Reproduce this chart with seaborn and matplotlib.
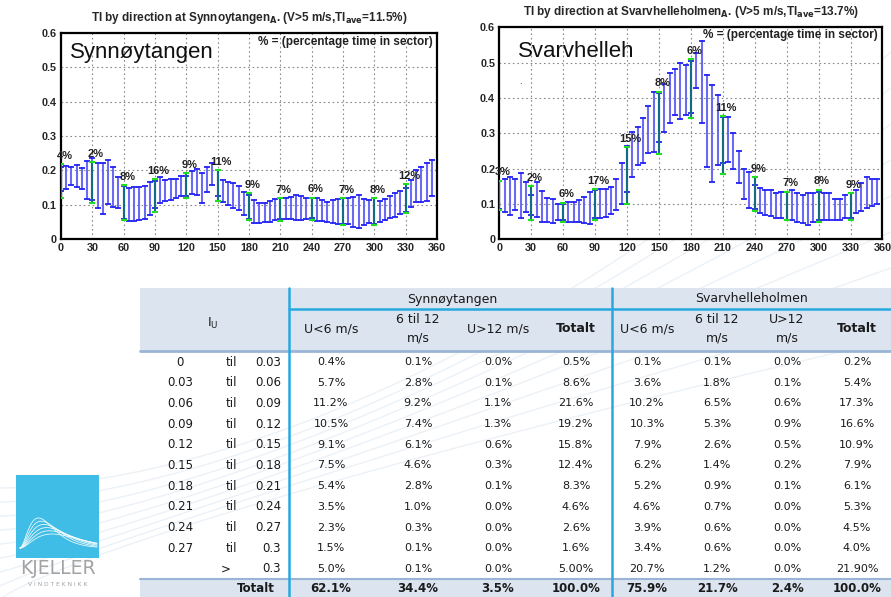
import numpy as np
import pandas as pd
import matplotlib
matplotlib.use("Agg")
import matplotlib.pyplot as plt
from matplotlib.patches import Rectangle
import seaborn as sns

# ---------------- turbulence intensity by 5-degree direction sector ----------------
directions = list(range(0, 360, 5))

syn_low = [0.140, 0.145, 0.158, 0.151, 0.145, 0.116, 0.115, 0.090, 0.073, 0.103, 0.093, 0.090,
           0.060, 0.054, 0.054, 0.056, 0.058, 0.071, 0.090, 0.105, 0.110, 0.115, 0.120, 0.125,
           0.125, 0.132, 0.129, 0.105, 0.138, 0.158, 0.125, 0.109, 0.100, 0.090, 0.085, 0.070,
           0.060, 0.046, 0.048, 0.051, 0.051, 0.056, 0.060, 0.058, 0.058, 0.056, 0.055, 0.058,
           0.062, 0.054, 0.054, 0.051, 0.046, 0.043, 0.045, 0.043, 0.037, 0.034, 0.041, 0.046,
           0.045, 0.051, 0.056, 0.061, 0.066, 0.074, 0.080, 0.095, 0.109, 0.109, 0.111, 0.126]
syn_high = [0.210, 0.213, 0.211, 0.216, 0.206, 0.226, 0.235, 0.223, 0.221, 0.229, 0.211, 0.182,
            0.155, 0.150, 0.151, 0.153, 0.155, 0.165, 0.170, 0.182, 0.172, 0.175, 0.175, 0.185,
            0.185, 0.197, 0.203, 0.192, 0.211, 0.223, 0.200, 0.172, 0.167, 0.163, 0.155, 0.138,
            0.130, 0.114, 0.106, 0.105, 0.112, 0.116, 0.119, 0.119, 0.124, 0.129, 0.126, 0.121,
            0.121, 0.119, 0.114, 0.109, 0.114, 0.116, 0.119, 0.119, 0.124, 0.129, 0.116, 0.114,
            0.119, 0.112, 0.116, 0.126, 0.134, 0.141, 0.150, 0.172, 0.201, 0.211, 0.221, 0.229]

svar_low = [0.085, 0.078, 0.069, 0.083, 0.059, 0.078, 0.070, 0.064, 0.050, 0.050, 0.045, 0.055,
            0.055, 0.050, 0.050, 0.048, 0.045, 0.043, 0.060, 0.059, 0.064, 0.073, 0.083, 0.100,
            0.135, 0.177, 0.210, 0.217, 0.245, 0.248, 0.276, 0.305, 0.328, 0.352, 0.340, 0.352,
            0.357, 0.427, 0.330, 0.205, 0.163, 0.210, 0.215, 0.220, 0.200, 0.160, 0.115, 0.090,
            0.085, 0.075, 0.070, 0.065, 0.060, 0.060, 0.055, 0.055, 0.050, 0.045, 0.040, 0.050,
            0.055, 0.055, 0.055, 0.055, 0.055, 0.060, 0.060, 0.075, 0.080, 0.090, 0.095, 0.100]
svar_high = [0.165, 0.170, 0.177, 0.170, 0.187, 0.163, 0.125, 0.163, 0.138, 0.116, 0.113, 0.100,
             0.100, 0.105, 0.105, 0.110, 0.120, 0.134, 0.140, 0.141, 0.143, 0.148, 0.172, 0.215,
             0.265, 0.303, 0.319, 0.342, 0.377, 0.418, 0.415, 0.440, 0.470, 0.481, 0.498, 0.493,
             0.505, 0.526, 0.560, 0.465, 0.437, 0.408, 0.345, 0.345, 0.300, 0.250, 0.200, 0.190,
             0.155, 0.145, 0.140, 0.140, 0.130, 0.135, 0.135, 0.140, 0.130, 0.125, 0.130, 0.130,
             0.135, 0.130, 0.130, 0.115, 0.115, 0.125, 0.130, 0.140, 0.160, 0.175, 0.170, 0.170]

# 30-degree main sectors and share of time in each sector
main_dirs = list(range(0, 360, 30))
syn_main_low = [0.120, 0.105, 0.056, 0.080, 0.119, 0.112, 0.056, 0.054, 0.056, 0.041, 0.041, 0.076]
syn_main_high = [0.218, 0.224, 0.158, 0.174, 0.192, 0.200, 0.134, 0.119, 0.121, 0.119, 0.119, 0.160]
syn_share = ["4%", "2%", "8%", "16%", "9%", "11%", "9%", "7%", "6%", "7%", "8%", "12%"]
svar_main_low = [0.083, 0.055, 0.050, 0.055, 0.100, 0.241, 0.342, 0.185, 0.080, 0.055, 0.050, 0.055]
svar_main_high = [0.166, 0.151, 0.104, 0.141, 0.260, 0.418, 0.510, 0.349, 0.175, 0.135, 0.140, 0.130]
svar_share = ["3%", "2%", "6%", "17%", "15%", "8%", "6%", "11%", "9%", "7%", "8%", "9%"]

x_ticks = list(range(0, 361, 30))
y_ticks = [0, 0.1, 0.2, 0.3, 0.4, 0.5, 0.6]
y_ticklabels = ["0", "0.1", "0.2", "0.3", "0.4", "0.5", "0.6"]

# ---------------- distribution of turbulence intensity (table) ----------------
iu_from = ["0", "0.03", "0.06", "0.09", "0.12", "0.15", "0.18", "0.21", "0.24", "0.27", ""]
iu_op = ["til"] * 10 + [">"]
iu_to = ["0.03", "0.06", "0.09", "0.12", "0.15", "0.18", "0.21", "0.24", "0.27", "0.3", "0.3"]

syn_u_lt6 = ["0.4%", "5.7%", "11.2%", "10.5%", "9.1%", "7.5%", "5.4%", "3.5%", "2.3%", "1.5%", "5.0%"]
syn_u_6_12 = ["0.1%", "2.8%", "9.2%", "7.4%", "6.1%", "4.6%", "2.8%", "1.0%", "0.3%", "0.1%", "0.1%"]
syn_u_gt12 = ["0.0%", "0.1%", "1.1%", "1.3%", "0.6%", "0.3%", "0.1%", "0.0%", "0.0%", "0.0%", "0.0%"]
syn_total = ["0.5%", "8.6%", "21.6%", "19.2%", "15.8%", "12.4%", "8.3%", "4.6%", "2.6%", "1.6%", "5.00%"]
syn_sum = ["62.1%", "34.4%", "3.5%", "100.0%"]

svar_u_lt6 = ["0.1%", "3.6%", "10.2%", "10.3%", "7.9%", "6.2%", "5.2%", "4.6%", "3.9%", "3.4%", "20.7%"]
svar_u_6_12 = ["0.1%", "1.8%", "6.5%", "5.3%", "2.6%", "1.4%", "0.9%", "0.7%", "0.6%", "0.6%", "1.2%"]
svar_u_gt12 = ["0.0%", "0.1%", "0.6%", "0.9%", "0.5%", "0.2%", "0.1%", "0.0%", "0.0%", "0.0%", "0.0%"]
svar_total = ["0.2%", "5.4%", "17.3%", "16.6%", "10.9%", "7.9%", "6.1%", "5.3%", "4.5%", "4.0%", "21.90%"]
svar_sum = ["75.9%", "21.7%", "2.4%", "100.0%"]

syn_heads = ["U<6 m/s", "6 til 12\nm/s", "U>12 m/s", "Totalt"]
svar_heads = ["U<6 m/s", "6 til 12\nm/s", "U>12\nm/s", "Totalt"]

# ---------------- styling ----------------
sns.set_theme(style="white")
plt.rcParams["font.family"] = ["Liberation Sans", "DejaVu Sans"]

CAP_BLUE = "#2323f5"
STEM_BLUE = "#6a6af2"
GREEN = "#1fe01f"
TEAL = "#126d80"

W, H = 891, 597
fig = plt.figure(figsize=(W / 100, H / 100), dpi=100)
fig.patch.set_facecolor("white")


def px_axes(x0, y0, x1, y1, z):
    return fig.add_axes([x0 / W, 1 - y1 / H, (x1 - x0) / W, (y1 - y0) / H], zorder=z)


bg = px_axes(0, 0, W, H, 0)
bg.set_xlim(0, W)
bg.set_ylim(H, 0)
bg.axis("off")

# faint decorative sweeps behind the table
sweep_x = np.linspace(0, W, 300)
for k in range(9):
    y0 = 600 - 14 * k
    bend = 260 + 22 * k
    sweep_y = y0 - bend * (sweep_x / W) ** (0.8 + 0.12 * k)
    bg.plot(sweep_x, sweep_y, color="#e3ecf4", lw=1.0, alpha=0.7, zorder=0)

ax1 = px_axes(61, 32.7, 437, 239.3, 2)
ax2 = px_axes(499.3, 27.3, 882.5, 239.3, 2)


def ti_panel(ax, low, high, mlow, mhigh, shares, title):
    df = pd.DataFrame({"direction": directions * 2, "TI": low + high})
    sns.lineplot(data=df, x="direction", y="TI", estimator="mean", errorbar=("pi", 100),
                 err_style="bars", color=CAP_BLUE, linewidth=0,
                 err_kws=dict(capsize=2.3, elinewidth=1.5, capthick=1.3), ax=ax)
    ax.containers[-1].lines[2][0].set_color(STEM_BLUE)

    mid = [(a + b) / 2 for a, b in zip(mlow, mhigh)]
    yerr = [[m - a for m, a in zip(mid, mlow)], [b - m for b, m in zip(mhigh, mid)]]
    eb = ax.errorbar(main_dirs, mid, yerr=yerr, fmt="none", ecolor=GREEN,
                     elinewidth=1.5, capsize=2.5, capthick=1.5, zorder=3)
    eb.lines[2][0].set_color(TEAL)

    for d, h, s in zip(main_dirs, mhigh, shares):
        ax.annotate(s, (d, h), xytext=(2.5, 6), textcoords="offset points",
                    ha="center", va="center", fontsize=8, fontweight="bold",
                    color="#222222", zorder=4)

    ax.set_xlim(0, 360)
    ax.set_ylim(0, 0.6)
    ax.set_xticks(x_ticks)
    ax.set_yticks(y_ticks)
    ax.set_yticklabels(y_ticklabels)
    ax.set_xlabel("")
    ax.set_ylabel("")
    ax.grid(True, color="#8a8a8a", linestyle=(0, (1.5, 2.5)), linewidth=0.8)
    ax.tick_params(labelsize=7.8, length=2.5, direction="in", pad=3, color="black")
    for lab in ax.get_xticklabels() + ax.get_yticklabels():
        lab.set_fontweight("bold")
    for sp in ax.spines.values():
        sp.set_color("black")
        sp.set_linewidth(1.6)
    ax.set_title(title, fontsize=8.5, fontweight="bold", pad=8.5)
    ax.set_facecolor("white")


ti_panel(ax1, syn_low, syn_high, syn_main_low, syn_main_high, syn_share,
         r"TI by direction at Synnoytangen$_{\mathbf{A}}$. (V>5 m/s,TI$_{\mathbf{ave}}$=11.5%)")
ti_panel(ax2, svar_low, svar_high, svar_main_low, svar_main_high, svar_share,
         r"TI by direction at Svarvhelleholmen$_{\mathbf{A}}$. (V>5 m/s,TI$_{\mathbf{ave}}$=13.7%)")

ax1.text(0.024, 0.905, "Synnøytangen", transform=ax1.transAxes, fontsize=16,
         ha="left", va="center", color="#111111")
ax1.text(0.99, 0.955, "% = (percentage time in sector)", transform=ax1.transAxes,
         fontsize=8.5, fontweight="bold", ha="right", va="center", color="#222222")
ax2.text(0.049, 0.884, "Svarvhelleh", transform=ax2.transAxes, fontsize=16,
         ha="left", va="center", color="#111111")
ax2.text(0.054, 0.745, ".", transform=ax2.transAxes, fontsize=7, ha="center",
         va="center", color="#111111")
ax2.text(0.987, 0.964, "% = (percentage time in sector)", transform=ax2.transAxes,
         fontsize=8.5, fontweight="bold", ha="right", va="center", color="#222222")

# ---------------- table ----------------
TF = ["DejaVu Sans"]
HDR = "#dbe4ef"
CYAN = "#27a8e0"
RULE = "#9ab4d6"

bg.add_patch(Rectangle((140, 288), W - 140, 351 - 288, facecolor=HDR, lw=0, zorder=1))
bg.add_patch(Rectangle((140, 579), W - 140, H - 579, facecolor=HDR, lw=0, zorder=1))
bg.plot([140, W], [351, 351], color=RULE, lw=2, zorder=2)
bg.plot([140, W], [579, 579], color=RULE, lw=1.5, zorder=2)
bg.plot([289, 289], [288, H], color=CYAN, lw=1.8, zorder=2)
bg.plot([612, 612], [288, H], color=CYAN, lw=1.8, zorder=2)
bg.plot([289, W], [309, 309], color=CYAN, lw=1.8, zorder=2)

tkw = dict(family=TF, color="#1a1a1a", va="center", zorder=3)
bg.text(452, 299, "Synnøytangen", ha="center", fontsize=9, **tkw)
bg.text(752, 299, "Svarvhelleholmen", ha="center", fontsize=9, **tkw)
bg.text(213, 323, r"I$_\mathregular{U}$", ha="center", fontsize=9, **tkw)

syn_cols = [331, 418, 498, 576]
svar_cols = [647, 717, 787, 857]
for heads, cols in ((syn_heads, syn_cols), (svar_heads, svar_cols)):
    for h, cx in zip(heads, cols):
        bg.text(cx, 329, h, ha="center", fontsize=9, linespacing=1.55,
                fontweight="bold" if h == "Totalt" else "normal", **tkw)

row_y = [362 + 20.7 * i for i in range(len(iu_from))]
for y, a, op, b in zip(row_y, iu_from, iu_op, iu_to):
    bg.text(180, y, a, ha="center", fontsize=8.5, **tkw)
    bg.text(231 if op == "til" else 226, y, op, ha="center", fontsize=8.5, **tkw)
    bg.text(281, y, b, ha="right", fontsize=8.5, **tkw)

for cols, series in ((syn_cols, (syn_u_lt6, syn_u_6_12, syn_u_gt12, syn_total)),
                     (svar_cols, (svar_u_lt6, svar_u_6_12, svar_u_gt12, svar_total))):
    for cx, vals in zip(cols, series):
        for y, v in zip(row_y, vals):
            bg.text(cx, y, v, ha="center", fontsize=8, **tkw)

bg.text(256, 589, "Totalt", ha="center", fontsize=8.5, fontweight="bold", **tkw)
for cols, sums in ((syn_cols, syn_sum), (svar_cols, svar_sum)):
    for cx, v in zip(cols, sums):
        bg.text(cx, 589, v, ha="center", fontsize=8.5, fontweight="bold", **tkw)

# ---------------- company logo ----------------
bg.add_patch(Rectangle((16, 475), 83, 83, facecolor="#3fbde6", lw=0, zorder=1))
t = np.linspace(0.0, 1.0, 120)
for i in range(6):
    p = 0.24 + 0.035 * i
    amp = 30 - 3.2 * i
    curve = amp * (t / p) ** 2 * np.exp(2 * (1 - t / p))
    bg.plot(20 + 77 * t, 548 - curve, color="white", lw=0.6, alpha=0.9, zorder=2)
bg.text(57.5, 568, "KJELLER", ha="center", va="center", fontsize=13.5,
        family=["DejaVu Sans"], color="#a3a3a3", zorder=3)
bg.text(57.5, 584, "V I N D T E K N I K K", ha="center", va="center", fontsize=4.3,
        family=["DejaVu Sans"], color="#a3a3a3", zorder=3)

fig.savefig("out.png", dpi=100, facecolor="white")
